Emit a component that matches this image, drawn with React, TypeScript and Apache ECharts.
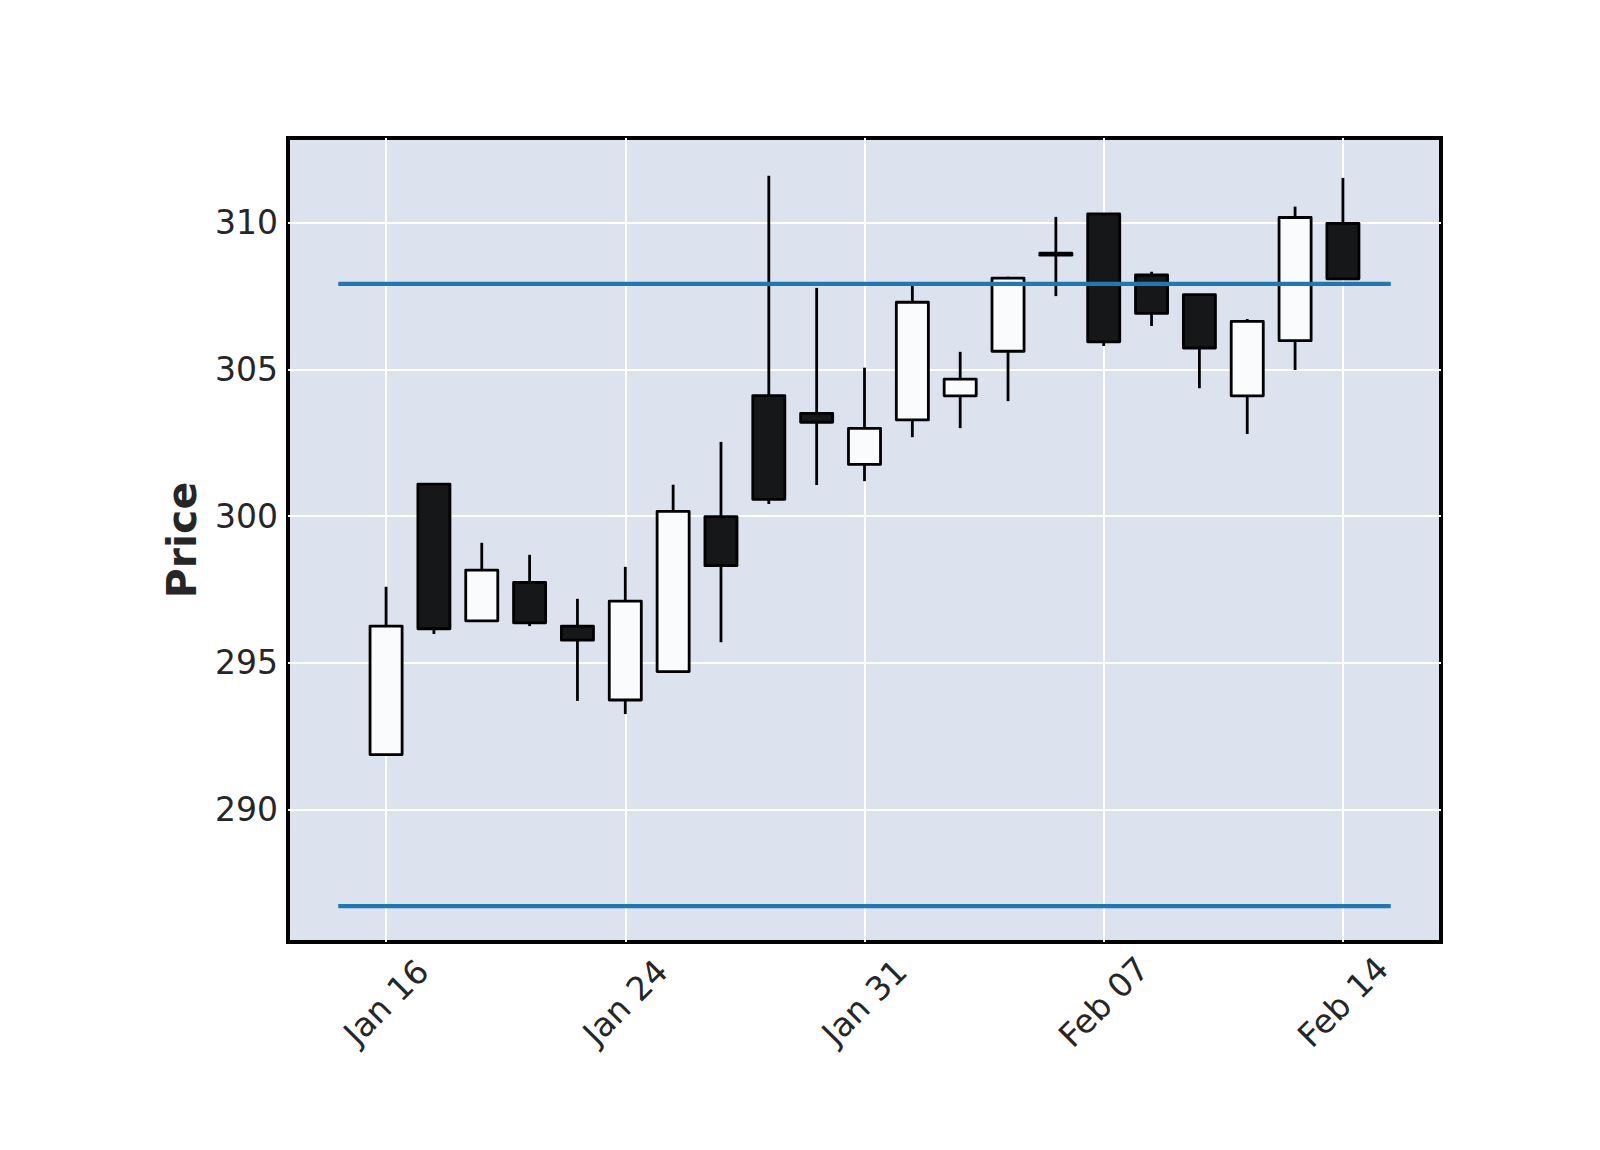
import React, { useEffect, useRef } from "react";
import * as echarts from "echarts";

const dateLabels = [
  "Jan 16", "Jan 17", "Jan 21", "Jan 22", "Jan 23", "Jan 24", "Jan 27", "Jan 28", "Jan 29", "Jan 30",
  "Jan 31", "Feb 03", "Feb 04", "Feb 05", "Feb 06", "Feb 07", "Feb 10", "Feb 11", "Feb 12", "Feb 13", "Feb 14",
];
const opens = [291.87, 301.09, 296.43, 297.74, 296.25, 293.73, 294.7, 299.98, 304.11, 303.5, 301.76, 303.28, 304.1, 305.62, 308.93, 310.3, 308.22, 307.55, 304.1, 305.98, 309.98];
const closes = [296.25, 296.16, 298.16, 296.36, 295.77, 297.1, 300.16, 298.31, 300.57, 303.2, 302.99, 307.29, 304.67, 308.11, 308.93, 305.94, 306.91, 305.73, 306.64, 310.18, 308.09];
const lows = [291.87, 295.98, 296.43, 296.25, 293.7, 293.25, 294.7, 295.7, 300.41, 301.06, 301.19, 302.69, 303.0, 303.92, 307.5, 305.8, 306.48, 304.36, 302.8, 304.98, 308.09];
const highs = [297.59, 301.09, 299.09, 298.68, 297.18, 298.27, 301.07, 302.53, 311.6, 307.78, 305.06, 307.9, 305.6, 308.16, 310.2, 310.3, 308.33, 307.55, 306.72, 310.55, 311.53];
const hlineValues = [307.92, 286.7];
const xTickIdx = [0, 5, 10, 15, 20];
const yTicks = [290, 295, 300, 305, 310];

const FONT = "DejaVu Sans";

export default function App() {
  const ref = useRef<HTMLDivElement>(null);
  useEffect(() => {
    if (!ref.current) return;
    const chart = echarts.init(ref.current, null, { renderer: "svg" });
    const candleData = opens.map((o, i) => [i, o, closes[i], lows[i], highs[i]]);
    const hlineSeries = hlineValues.map((v) => ({
      type: "line",
      data: [[-1, v], [21, v]],
      showSymbol: false,
      symbol: "none",
      lineStyle: { color: "#1f77b4", width: 4.2 },
      z: 5,
      silent: true,
    }));
    chart.setOption({
      animation: false,
      grid: {
        left: 280,
        top: 130,
        width: 1153,
        height: 804,
        show: true,
        backgroundColor: "#dce3ef",
        borderColor: "#000",
        borderWidth: 4,
      },
      xAxis: {
        type: "value",
        min: -2.05,
        max: 22.05,
        axisLine: { show: false },
        axisTick: { show: false, customValues: xTickIdx },
        splitLine: { show: true, lineStyle: { color: "#ffffff", width: 2 } },
        axisLabel: {
          customValues: xTickIdx,
          formatter: (v: number) => dateLabels[Math.round(v)],
          rotate: 45,
          align: "center",
          verticalAlign: "middle",
          margin: 60,
          fontSize: 33,
          fontFamily: FONT,
          color: "#262626",
        },
      },
      yAxis: {
        type: "value",
        min: 285.48,
        max: 312.89,
        name: "Price",
        nameLocation: "middle",
        nameRotate: 90,
        nameGap: 86,
        nameTextStyle: { fontSize: 41, fontWeight: "bold", fontFamily: FONT, color: "#262626" },
        axisLine: { show: false },
        axisTick: { show: false, customValues: yTicks },
        splitLine: { show: true, lineStyle: { color: "#ffffff", width: 2 } },
        axisLabel: {
          customValues: yTicks,
          margin: 10,
          fontSize: 33,
          fontFamily: FONT,
          color: "#262626",
        },
      },
      series: [
        {
          type: "custom",
          data: candleData,
          encode: { x: 0, y: [1, 2, 3, 4] },
          z: 3,
          renderItem: (params: any, api: any) => {
            const x = api.value(0);
            const o = api.value(1);
            const c = api.value(2);
            const l = api.value(3);
            const h = api.value(4);
            const pO = api.coord([x, o]);
            const pC = api.coord([x, c]);
            const pL = api.coord([x, l]);
            const pH = api.coord([x, h]);
            const w = api.size([0.67, 0])[0];
            const up = c >= o;
            let top = Math.min(pO[1], pC[1]);
            let bottom = Math.max(pO[1], pC[1]);
            if (bottom - top < 2) {
              const mid = (top + bottom) / 2;
              top = mid - 1;
              bottom = mid + 1;
            }
            return {
              type: "group",
              children: [
                {
                  type: "line",
                  shape: { x1: pH[0], y1: pH[1], x2: pL[0], y2: pL[1] },
                  style: { stroke: "#000", lineWidth: 2.8 },
                },
                {
                  type: "rect",
                  shape: { x: pO[0] - w / 2, y: top, width: w, height: bottom - top },
                  style: {
                    fill: up ? "#fafbfd" : "#161718",
                    stroke: "#000",
                    lineWidth: 2.8,
                    lineJoin: "round",
                  },
                },
              ],
            };
          },
        },
        ...hlineSeries,
      ],
    });
    return () => chart.dispose();
  }, []);
  return <div ref={ref} style={{ width: 1584, height: 1134 }} />;
}
